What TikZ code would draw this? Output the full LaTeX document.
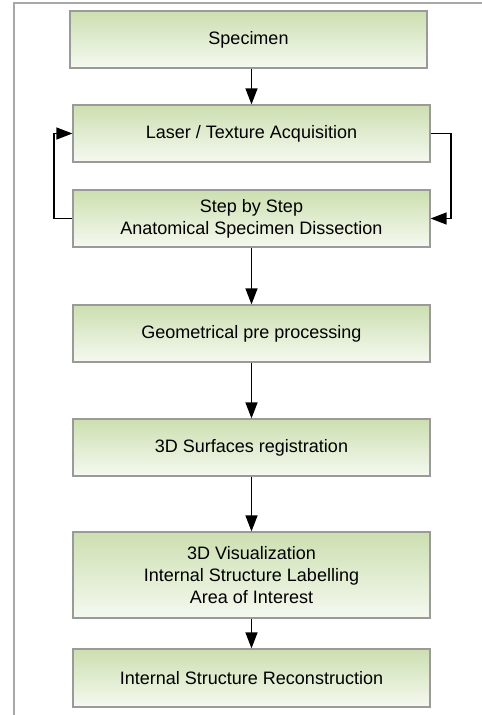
\documentclass[tikz,border=0pt]{standalone}
\usepackage{fontspec}
\setmainfont{Liberation Sans}
\usetikzlibrary{arrows.meta}
\definecolor{boxtop}{HTML}{CCDFB0}
\definecolor{boxbot}{HTML}{F5F9F0}
\definecolor{boxline}{HTML}{9A9A9A}
\definecolor{frameline}{HTML}{A8A8A8}
\tikzset{
  stepbox/.style={draw=boxline, line width=1.2pt, top color=boxtop, bottom color=boxbot,
    minimum width=357pt, inner sep=0pt, align=center,
    font=\fontsize{18pt}{21.7pt}\selectfont},
  conn/.style={line width=1.3pt, -{Triangle[length=16pt,width=12pt]}},
}
\begin{document}
\begin{tikzpicture}[x=1pt,y=-1pt]
\useasboundingbox (0,0) rectangle (482,715);
\draw[frameline, line width=1.5pt] (14,715) -- (14,3) -- (482,3);
\node[stepbox, minimum height=57pt] (spec) at (248.5,39.5) {Specimen};
\node[stepbox, minimum height=57pt] (laser) at (251.5,133.5) {Laser / Texture Acquisition};
\node[stepbox, minimum height=57pt] (step) at (251.5,218.5) {Step by Step\\Anatomical Specimen Dissection};
\node[stepbox, minimum height=57pt] (geo) at (251.5,333.5) {Geometrical pre processing};
\node[stepbox, minimum height=57pt] (surf) at (251.5,447.5) {3D Surfaces registration};
\node[stepbox, minimum height=86pt] (vis) at (251.5,575) {3D Visualization\\Internal Structure Labelling\\Area of Interest};
\node[stepbox, minimum height=58pt] (recon) at (251.5,678) {Internal Structure Reconstruction};
\coordinate (rl) at (451,133.5);
\coordinate (ll) at (54,218.5);
\draw[conn] (laser.north |- spec.south) -- (laser.north);
\draw[conn] (laser.east) -- (rl) |- (step.east);
\draw[conn] (step.west) -- (ll) |- (laser.west);
\draw[conn] (step) -- (geo);
\draw[conn] (geo) -- (surf);
\draw[conn] (surf) -- (vis);
\draw[conn] (vis) -- (recon);
\end{tikzpicture}
\end{document}
